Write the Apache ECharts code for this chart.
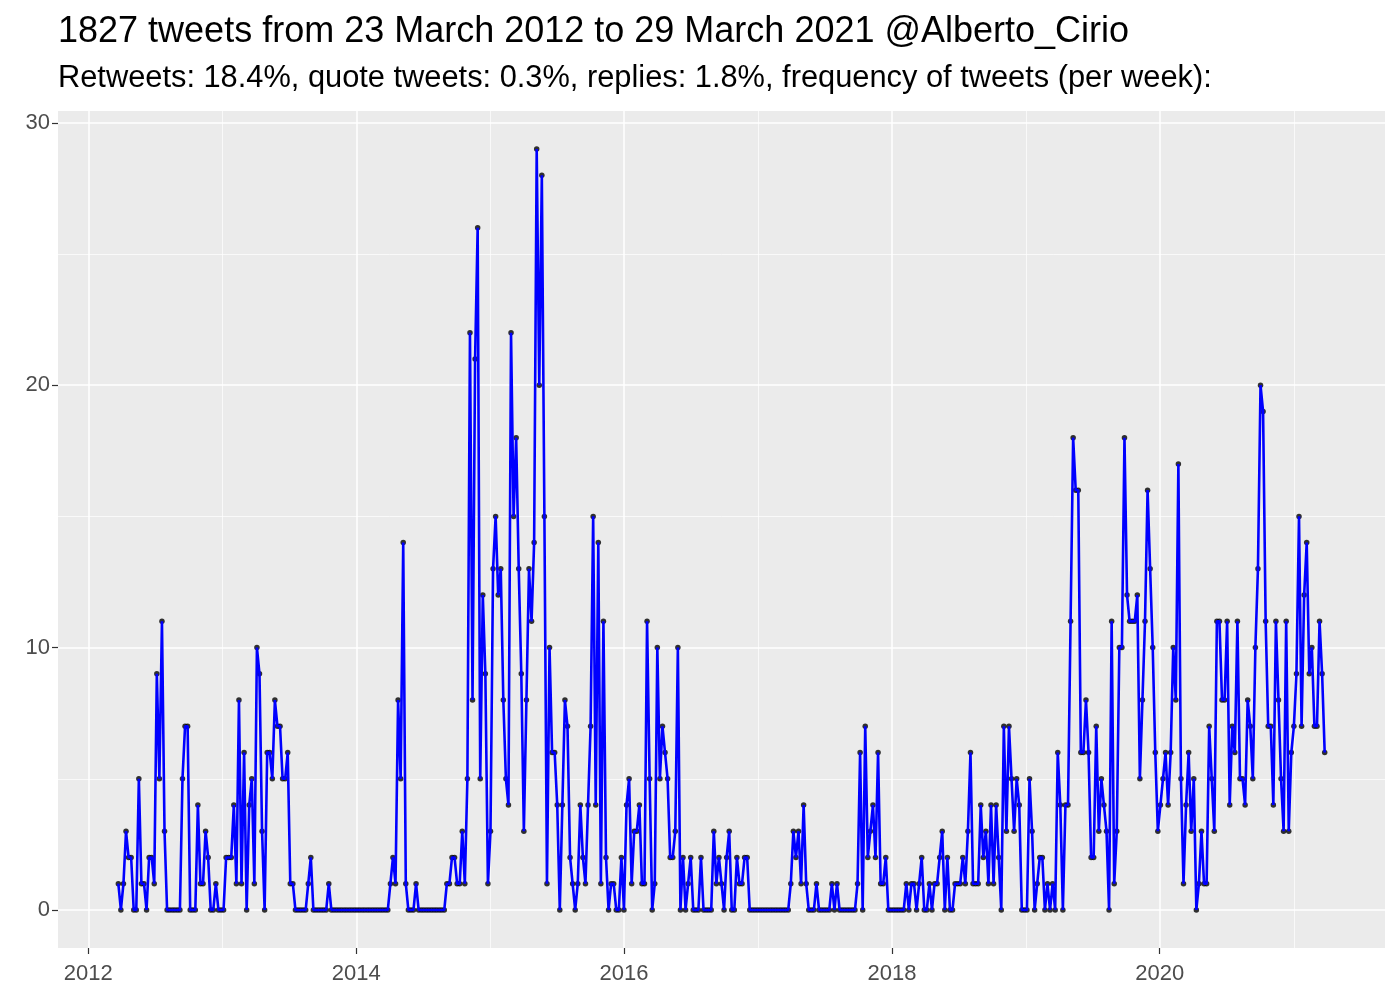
<!DOCTYPE html>
<html>
<head>
<meta charset="utf-8">
<title>Tweets per week @Alberto_Cirio</title>
<script src="https://cdn.jsdelivr.net/npm/echarts@6/dist/echarts.min.js"></script>
<style>
  html, body { margin: 0; padding: 0; background: #ffffff; }
  #chart { width: 1400px; height: 1000px; }
</style>
</head>
<body>
<div id="chart"></div>
<script>
const titleText = "1827 tweets from 23 March 2012 to 29 March 2021 @Alberto_Cirio";
const subtitleText = "Retweets: 18.4%, quote tweets: 0.3%, replies: 1.8%, frequency of tweets (per week):";

// first weekly bin, then one count per week
const startDate = Date.UTC(2012, 2, 23);
const weeklyCounts = [
  1, 0, 1, 3, 2, 2, 0, 0, 5, 1,
  1, 0, 2, 2, 1, 9, 5, 11, 3, 0,
  0, 0, 0, 0, 0, 5, 7, 7, 0, 0,
  0, 4, 1, 1, 3, 2, 0, 0, 1, 0,
  0, 0, 2, 2, 2,
  4, 1, 8, 1, 6, 0, 4, 5, 1, 10,
  9, 3, 0, 6, 6, 5, 8, 7, 7, 5,
  5, 6, 1, 1,
  0, 0, 0, 0, 0, 1, 2, 0, 0, 0,
  0, 0, 0, 1, 0, 0, 0, 0, 0, 0,
  0, 0, 0, 0, 0, 0, 0, 0, 0, 0,
  0, 0, 0, 0, 0, 0, 0, 1, 2, 1,
  8, 5, 14, 1, 0, 0, 0, 1, 0, 0,
  0, 0, 0, 0, 0, 0, 0, 0,
  0, 1, 1, 2, 2, 1, 1, 3, 1, 5,
  22, 8, 21, 26, 5, 12, 9, 1, 3, 13,
  15, 12, 13, 8, 5, 4, 22, 15, 18, 13,
  9, 3, 8, 13, 11, 14, 29, 20, 28, 15,
  1, 10, 6, 6, 4, 0,
  4, 8, 7, 2, 1, 0, 1, 4, 2, 1,
  4, 7, 15, 4, 14, 1, 11, 2, 0, 1,
  1, 0, 0, 2, 0, 4, 5, 1, 3, 3,
  4, 1, 1, 11, 5, 0, 1, 10, 5, 7,
  6, 5, 2, 2, 3, 10, 0,
  2, 0, 1, 2, 0, 0, 0, 2, 0, 0,
  0, 0, 3, 1, 2, 1, 0, 2, 3, 0,
  0, 2, 1, 1, 2, 2,
  0, 0, 0, 0, 0, 0, 0, 0, 0, 0,
  0, 0, 0, 0, 0, 0,
  1, 3, 2, 3, 1, 4, 1, 0,
  0, 0, 1, 0, 0, 0, 0, 0, 1, 0,
  1, 0, 0, 0, 0, 0, 0, 0, 1, 6,
  0, 7, 2, 3, 4, 2, 6, 1, 1, 2,
  0, 0, 0, 0, 0, 0, 0, 1, 0, 1,
  1, 0, 1,
  2, 0, 0, 1, 0, 1, 1, 2, 3, 0,
  2, 0, 0, 1, 1, 1, 2, 1, 3, 6,
  1, 1, 1, 4, 2, 3, 1, 4, 1, 4,
  2, 0, 7, 3, 7, 5, 3, 5, 4, 0,
  0, 0, 5, 3, 0, 1, 2,
  2, 0, 1, 0, 1, 0, 6, 4, 0, 4,
  4, 11, 18, 16, 16, 6, 6, 8, 6, 2,
  2, 7, 3, 5, 4, 3, 0, 11, 1, 3,
  10, 10, 18, 12, 11, 11, 11, 12, 5, 8,
  11, 16, 13, 10, 6, 3,
  4, 5, 6, 4, 6, 10, 8, 17, 5, 1,
  4, 6, 3, 5, 0, 1, 3, 1, 1, 7,
  5, 3, 11, 11, 8, 8, 11, 4, 7, 6,
  11, 5, 5, 4, 8, 7, 5, 10, 13, 20,
  19, 11, 7, 7, 4, 11, 8, 5, 3, 11,
  3, 6, 7, 9, 15, 7, 12, 14, 9, 10,
  7, 7, 11, 9, 6
];

const yMajorTicks = [0, 10, 20, 30];
const yMinorTicks = [5, 15, 25];
const xMajorYears = [2012, 2014, 2016, 2018, 2020];
const xMinorYears = [2013, 2015, 2017, 2019, 2021];

const DAY = 86400000;
const fontFamily = "'Liberation Sans', Arial, Helvetica, sans-serif";
const points = weeklyCounts.map((v, i) => [startDate + i * 7 * DAY, v]);

// ggplot style 5% expansion on both axes
const firstT = points[0][0];
const lastT = points[points.length - 1][0];
const xPad = (lastT - firstT) * 0.05;
const yMax = Math.max(...weeklyCounts);
const yPad = yMax * 0.05;
const yearTs = (y) => Date.UTC(y, 0, 1);

const chart = echarts.init(document.getElementById("chart"), null, { renderer: "canvas" });

chart.setOption({
  animation: false,
  backgroundColor: "#ffffff",
  title: [
    {
      text: titleText,
      left: 58,
      top: 14,
      padding: 0,
      textStyle: { fontFamily, fontSize: 36, fontWeight: "normal", color: "#000000" },
    },
    {
      text: subtitleText,
      left: 58,
      top: 63,
      padding: 0,
      textStyle: { fontFamily, fontSize: 30.8, fontWeight: "normal", color: "#000000" },
    },
  ],
  grid: {
    left: 58,
    right: 15,
    top: 111,
    bottom: 52,
    show: true,
    backgroundColor: "#ebebeb",
    borderWidth: 0,
  },
  xAxis: [
    {
      type: "value",
      min: firstT - xPad,
      max: lastT + xPad,
      position: "bottom",
      axisLine: { show: true, onZero: false, lineStyle: { color: "rgba(0,0,0,0)", width: 0 } },
      axisTick: {
        show: true,
        inside: false,
        length: 6,
        customValues: xMajorYears.map(yearTs),
        lineStyle: { color: "#333333", width: 1.2 },
      },
      axisLabel: {
        customValues: xMajorYears.map(yearTs),
        formatter: (v) => String(new Date(v).getUTCFullYear()),
        color: "#4d4d4d",
        fontFamily,
        fontSize: 22,
        margin: 15,
      },
      splitLine: { show: true, lineStyle: { color: "#ffffff", width: 1.5 } },
    },
    {
      type: "value",
      min: firstT - xPad,
      max: lastT + xPad,
      position: "top",
      axisLine: { show: false, onZero: false },
      axisTick: { show: false, customValues: xMinorYears.map(yearTs) },
      axisLabel: { show: false },
      splitLine: { show: true, lineStyle: { color: "#ffffff", width: 0.7 } },
    },
  ],
  yAxis: [
    {
      type: "value",
      min: -yPad,
      max: yMax + yPad,
      axisLine: { show: false, onZero: false },
      axisTick: {
        show: true,
        length: 6,
        customValues: yMajorTicks,
        lineStyle: { color: "#333333", width: 1.2 },
      },
      axisLabel: {
        customValues: yMajorTicks,
        color: "#4d4d4d",
        fontFamily,
        fontSize: 22,
        margin: 8,
      },
      splitLine: { show: true, lineStyle: { color: "#ffffff", width: 1.5 } },
    },
    {
      type: "value",
      min: -yPad,
      max: yMax + yPad,
      position: "right",
      axisLine: { show: false, onZero: false },
      axisTick: { show: false, customValues: yMinorTicks },
      axisLabel: { show: false },
      splitLine: { show: true, lineStyle: { color: "#ffffff", width: 0.7 } },
    },
  ],
  series: [
    {
      type: "scatter",
      data: points,
      symbol: "circle",
      symbolSize: 5.5,
      itemStyle: { color: "#000000" },
      silent: true,
      z: 2,
    },
    {
      type: "line",
      data: points,
      showSymbol: false,
      lineStyle: { color: "#0000ff", width: 2.6 },
      silent: true,
      z: 3,
    },
  ],
});
</script>
</body>
</html>
